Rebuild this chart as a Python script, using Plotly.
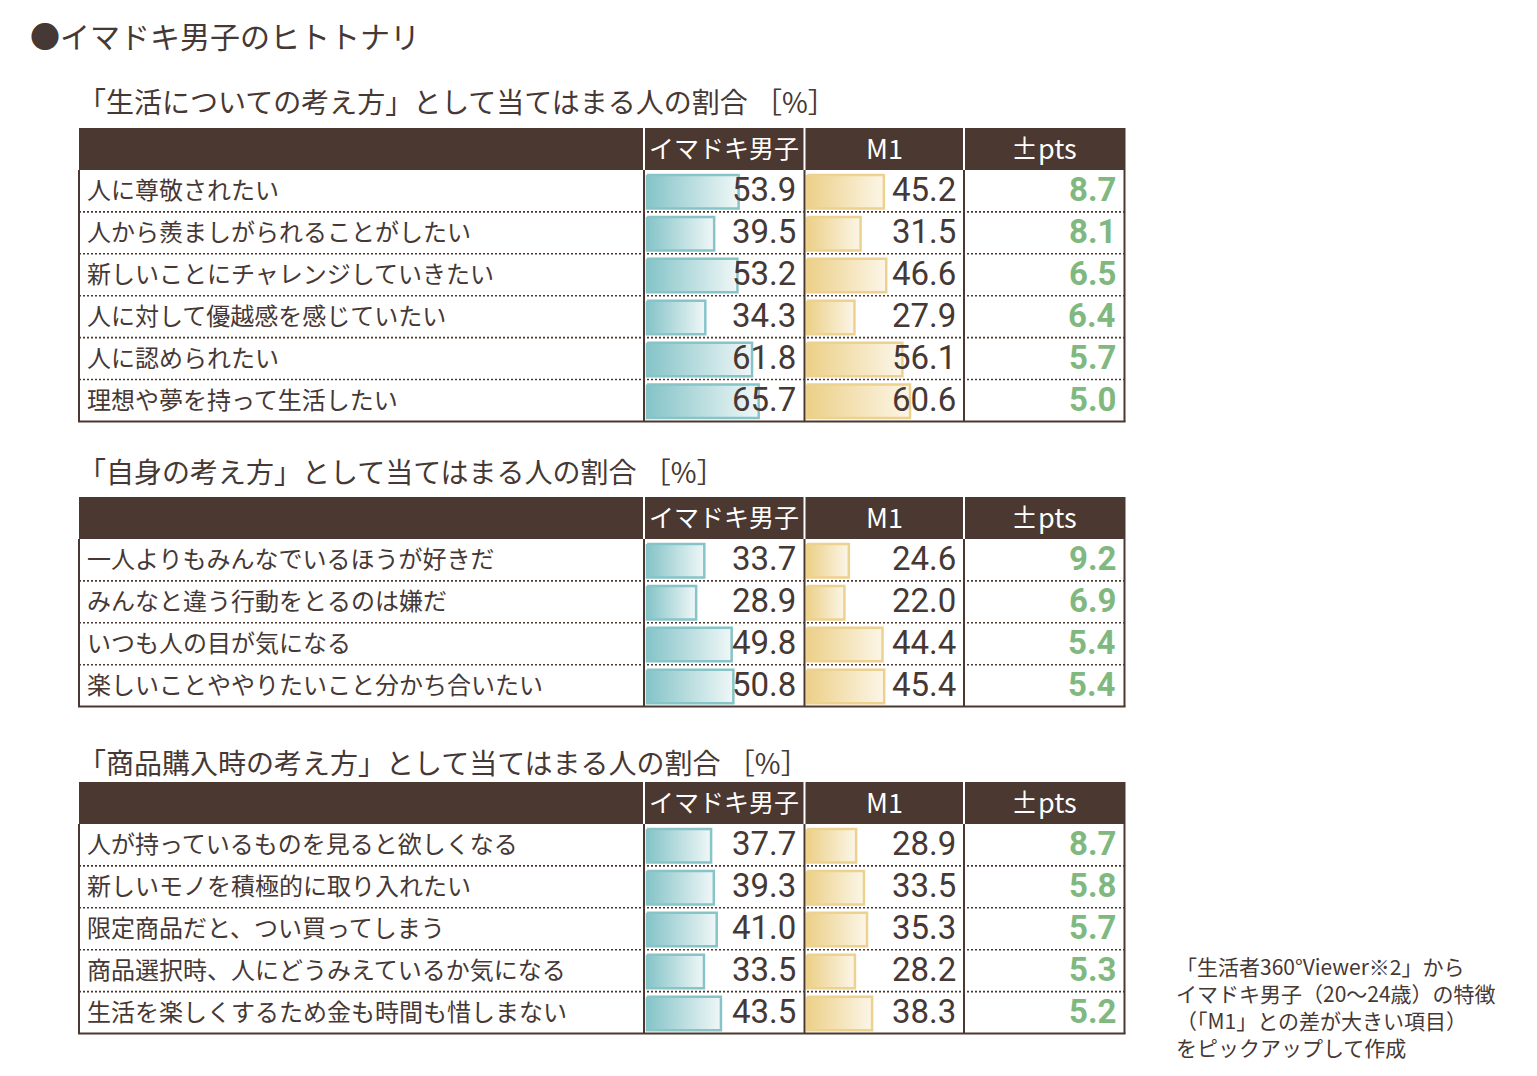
import plotly.graph_objects as go

W, H = 1537, 1076

# ---------------- data ----------------
main_title = "●イマドキ男子のヒトトナリ"
section_titles = [
    "「生活についての考え方」として当てはまる人の割合 ［%］",
    "「自身の考え方」として当てはまる人の割合 ［%］",
    "「商品購入時の考え方」として当てはまる人の割合 ［%］",
]
headers = ["イマドキ男子", "M1", "±pts"]

t1_labels = ["人に尊敬されたい", "人から羨ましがられることがしたい", "新しいことにチャレンジしていきたい",
             "人に対して優越感を感じていたい", "人に認められたい", "理想や夢を持って生活したい"]
t1_imadoki = [53.9, 39.5, 53.2, 34.3, 61.8, 65.7]
t1_m1 = [45.2, 31.5, 46.6, 27.9, 56.1, 60.6]
t1_pts = [8.7, 8.1, 6.5, 6.4, 5.7, 5.0]

t2_labels = ["一人よりもみんなでいるほうが好きだ", "みんなと違う行動をとるのは嫌だ",
             "いつも人の目が気になる", "楽しいことややりたいこと分かち合いたい"]
t2_imadoki = [33.7, 28.9, 49.8, 50.8]
t2_m1 = [24.6, 22.0, 44.4, 45.4]
t2_pts = [9.2, 6.9, 5.4, 5.4]

t3_labels = ["人が持っているものを見ると欲しくなる", "新しいモノを積極的に取り入れたい",
             "限定商品だと、つい買ってしまう", "商品選択時、人にどうみえているか気になる",
             "生活を楽しくするため金も時間も惜しまない"]
t3_imadoki = [37.7, 39.3, 41.0, 33.5, 43.5]
t3_m1 = [28.9, 33.5, 35.3, 28.2, 38.3]
t3_pts = [8.7, 5.8, 5.7, 5.3, 5.2]

footnote_lines = ["「生活者360°Viewer※2」から", "イマドキ男子（20～24歳）の特徴",
                  "（「M1」との差が大きい項目）", "をピックアップして作成"]

# ---------------- style / layout ----------------
FONT = "Noto Sans CJK JP"
NUMFONT = "Roboto"
BROWN = "#4a3831"
TEXT = "#463834"
GREEN = "#80b880"
TEAL_DARK, TEAL_LIGHT, TEAL_LINE = "#85c4c8", "#f0f7f7", "#86c4c8"
GOLD_DARK, GOLD_LIGHT, GOLD_LINE = "#ecd088", "#fcf6e8", "#edd18e"

tables = [
    (t1_labels, t1_imadoki, t1_m1, t1_pts),
    (t2_labels, t2_imadoki, t2_m1, t2_pts),
    (t3_labels, t3_imadoki, t3_m1, t3_pts),
]
header_top = [128, 497, 782]
title_y = [101, 471, 762]
HDR_H = 42
ROW_H = 41.9
X_L, X_C1, X_C2, X_C3, X_R = 79, 644, 804.5, 964, 1124.5
PX_PER_UNIT = 1.70
BAR0_T, BAR0_G = 647, 807


def px(x):
    return x / W


def py(y):
    return 1 - y / H


fig = go.Figure()
shapes = []
annotations = []

annotations.append(dict(text=main_title, x=px(28), y=py(35), xref="paper", yref="paper",
                        xanchor="left", yanchor="middle", showarrow=False,
                        font=dict(family=FONT, size=30, color=TEXT)))

layout_axes = {}
layout_axes["xaxis"] = dict(domain=[px(BAR0_T - 2), px(X_C2 - 1)],
                            range=[-2 / PX_PER_UNIT, (X_C2 - 1 - BAR0_T) / PX_PER_UNIT],
                            visible=False, fixedrange=True, anchor="y")
layout_axes["xaxis2"] = dict(domain=[px(BAR0_G - 2), px(X_C3 - 1)],
                             range=[-2 / PX_PER_UNIT, (X_C3 - 1 - BAR0_G) / PX_PER_UNIT],
                             visible=False, fixedrange=True, anchor="y")

for k, (labels, vi, vm, vp) in enumerate(tables):
    n = len(labels)
    top = header_top[k]
    body_top = top + HDR_H
    bottom = body_top + n * ROW_H
    yname = "yaxis" if k == 0 else f"yaxis{k + 1}"
    yref = "y" if k == 0 else f"y{k + 1}"
    layout_axes[yname] = dict(domain=[py(bottom), py(body_top)], range=[n - 0.5, -0.5],
                              visible=False, fixedrange=True, anchor="x")

    annotations.append(dict(text=section_titles[k], x=px(76), y=py(title_y[k]), xref="paper",
                            yref="paper", xanchor="left", yanchor="middle", showarrow=False,
                            font=dict(family=FONT, size=28, color=TEXT)))
    shapes.append(dict(type="rect", xref="paper", yref="paper", x0=px(X_L), x1=px(X_R + 1),
                       y0=py(top + HDR_H), y1=py(top), fillcolor=BROWN, line=dict(width=0),
                       layer="below"))
    for xc in (X_C1, X_C2, X_C3):
        shapes.append(dict(type="line", xref="paper", yref="paper", x0=px(xc), x1=px(xc),
                           y0=py(top), y1=py(top + HDR_H), line=dict(color="white", width=2)))
    header_x = [(X_C1 + X_C2) / 2, (X_C2 + X_C3) / 2, (X_C3 + X_R) / 2]
    header_size = [25, 27, 27]
    for hx, ht, hs in zip(header_x, headers, header_size):
        annotations.append(dict(text=ht, x=px(hx), y=py(top + HDR_H / 2 - 2), xref="paper",
                                yref="paper", xanchor="center", yanchor="middle",
                                showarrow=False, font=dict(family=FONT, size=hs, color="white")))
    for i in range(1, n):
        yy = body_top + i * ROW_H
        shapes.append(dict(type="line", xref="paper", yref="paper", x0=px(X_L), x1=px(X_R),
                           y0=py(yy), y1=py(yy), line=dict(color=BROWN, width=1.6, dash="2px,2px")))
    for xc in (X_L, X_C1, X_C2, X_C3, X_R):
        shapes.append(dict(type="line", xref="paper", yref="paper", x0=px(xc), x1=px(xc),
                           y0=py(body_top), y1=py(bottom), line=dict(color=BROWN, width=2)))
    shapes.append(dict(type="line", xref="paper", yref="paper", x0=px(X_L - 1), x1=px(X_R + 1),
                       y0=py(bottom), y1=py(bottom), line=dict(color=BROWN, width=2)))

    for i in range(n):
        for v, xa, dark, light, lc in ((vi[i], "x", TEAL_DARK, TEAL_LIGHT, TEAL_LINE),
                                        (vm[i], "x2", GOLD_DARK, GOLD_LIGHT, GOLD_LINE)):
            fig.add_trace(go.Scatter(
                x=[0, v, v, 0, 0], y=[i - 0.38, i - 0.38, i + 0.42, i + 0.42, i - 0.38],
                xaxis=xa, yaxis=yref, mode="lines", fill="toself",
                fillgradient=dict(type="horizontal", colorscale=[[0, dark], [1, light]]),
                line=dict(color=lc, width=2.5), hoverinfo="skip", showlegend=False))

    for i in range(n):
        annotations.append(dict(text=labels[i], x=px(86), y=i, xref="paper", yref=yref,
                                xanchor="left", yanchor="middle", showarrow=False, yshift=2,
                                borderpad=0, font=dict(family=FONT, size=24, color=TEXT)))
        annotations.append(dict(text=f"{vi[i]:.1f}", x=px(797), y=i, xref="paper", yref=yref,
                                xanchor="right", yanchor="middle", showarrow=False, yshift=1,
                                borderpad=0, font=dict(family=NUMFONT, size=33, color=TEXT)))
        annotations.append(dict(text=f"{vm[i]:.1f}", x=px(957), y=i, xref="paper", yref=yref,
                                xanchor="right", yanchor="middle", showarrow=False, yshift=1,
                                borderpad=0, font=dict(family=NUMFONT, size=33, color=TEXT)))
        annotations.append(dict(text=f"<b>{vp[i]:.1f}</b>", x=px(1117), y=i, xref="paper",
                                yref=yref, xanchor="right", yanchor="middle", showarrow=False,
                                yshift=1, borderpad=0,
                                font=dict(family=NUMFONT, size=33, color=GREEN)))

for j, line in enumerate(footnote_lines):
    annotations.append(dict(text=line, x=px(1175), y=py(966 + j * 27), xref="paper",
                            yref="paper", xanchor="left", yanchor="middle", showarrow=False,
                            borderpad=0, font=dict(family=FONT, size=21, color=TEXT)))

fig.update_layout(width=W, height=H, margin=dict(l=0, r=0, t=0, b=0),
                  paper_bgcolor="white", plot_bgcolor="rgba(0,0,0,0)",
                  shapes=shapes, annotations=annotations, showlegend=False, **layout_axes)

fig.write_html("out.html", config={"displayModeBar": False})
